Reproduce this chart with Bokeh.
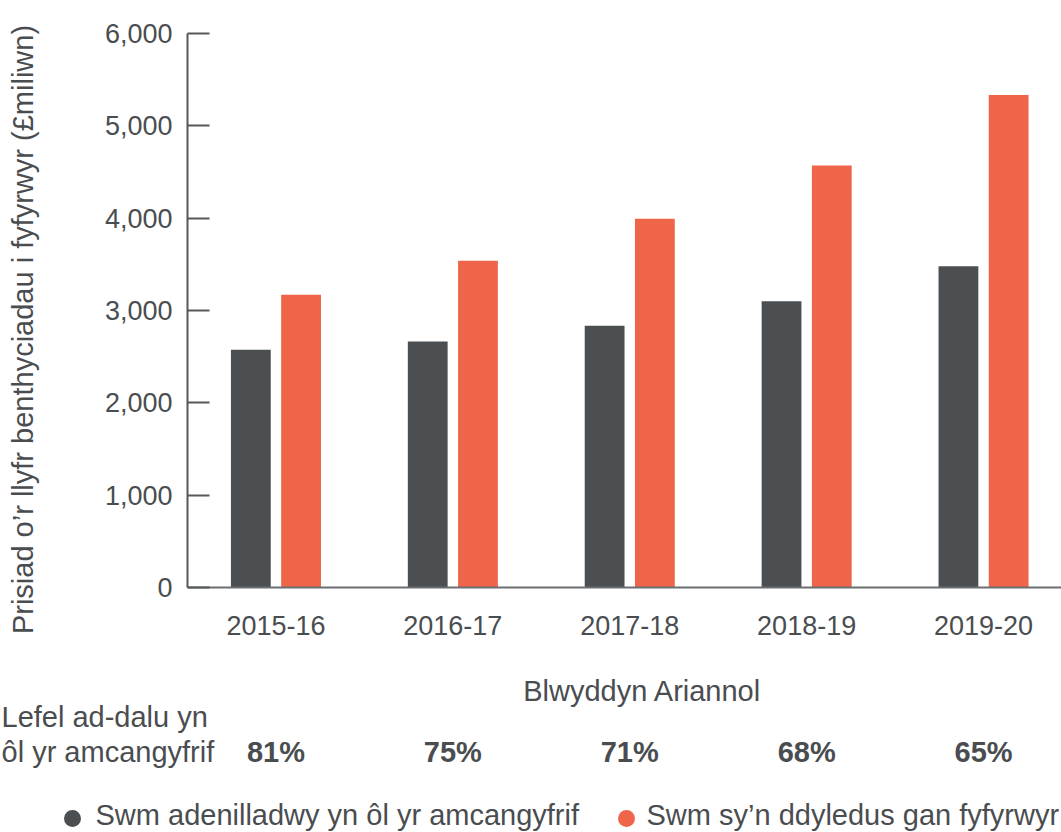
import math
from bokeh.plotting import figure
from bokeh.layouts import column, row
from bokeh.models import ColumnDataSource, Range1d, FixedTicker, NumeralTickFormatter
from bokeh.core.properties import value
from bokeh.transform import dodge
from bokeh.embed import file_html
from bokeh.resources import INLINE

# ---------------- data ----------------
years = ["2015-16", "2016-17", "2017-18", "2018-19", "2019-20"]
recoverable = [2575, 2665, 2835, 3100, 3480]   # Swm adenilladwy yn ôl yr amcangyfrif
owed = [3170, 3540, 3995, 4570, 5335]          # Swm sy’n ddyledus gan fyfyrwyr
repayment_rate = ["81%", "75%", "71%", "68%", "65%"]
y_ticks = [0, 1000, 2000, 3000, 4000, 5000, 6000]

series_labels = ["Swm adenilladwy yn ôl yr amcangyfrif", "Swm sy’n ddyledus gan fyfyrwyr"]
y_title = "Prisiad o’r llyfr benthyciadau i fyfyrwyr (£miliwn)"
x_title = "Blwyddyn Ariannol"
row_title = ["Lefel ad-dalu yn", "ôl yr amcangyfrif"]

# ---------------- style / layout ----------------
TEXT = "#4a4d50"
DARK = "#4b4f52"
ORANGE = "#ef654a"
AXIS = "#55585b"
FONT = "Liberation Sans"

TOTAL_W, TOTAL_H = 1061, 832
STRIP_W = 50            # left strip holding the y-axis title
MAIN_H = 650            # height of the chart part
FRAME_L, FRAME_T, FRAME_B = 187, 33, 587
CAT_PX = 176.9          # pixels per category
X_START = -0.5
Y_START, Y_END = 0, 6000
BL = 10                 # correction for the rendered alphabetic baseline


def dx(px):
    """page pixel -> category-index units (shared by chart and bottom strip)"""
    return X_START + (px - FRAME_L) / CAT_PX


X_END = dx(TOTAL_W)


def bare(width, height, xr, yr):
    f = figure(width=width, height=height, output_backend="svg", toolbar_location=None,
               frame_align=False, x_range=xr, y_range=yr,
               x_axis_location=None, y_axis_location=None, min_border=0)
    f.outline_line_color = None
    f.xgrid.visible = False
    f.ygrid.visible = False
    return f


# ---------------- main chart ----------------
src = ColumnDataSource(dict(x=list(range(len(years))), rec=recoverable, owed=owed))

p = figure(width=TOTAL_W - STRIP_W, height=MAIN_H, output_backend="svg",
           toolbar_location=None, frame_align=False,
           x_range=Range1d(X_START, X_END), y_range=Range1d(Y_START, Y_END),
           min_border_left=FRAME_L - STRIP_W, min_border_top=FRAME_T,
           min_border_bottom=MAIN_H - FRAME_B, min_border_right=0)
p.outline_line_color = None
p.xgrid.visible = False
p.ygrid.visible = False

OFF = 0.142
BW = 0.225
p.vbar(x=dodge("x", -OFF, range=p.x_range), top="rec", width=BW, source=src,
       fill_color=DARK, line_color=None)
p.vbar(x=dodge("x", OFF, range=p.x_range), top="owed", width=BW, source=src,
       fill_color=ORANGE, line_color=None)

ya = p.yaxis[0]
ya.ticker = FixedTicker(ticks=y_ticks)
ya.formatter = NumeralTickFormatter(format="0,0")
ya.major_tick_in = 22
ya.major_tick_out = 0
ya.minor_tick_line_color = None
ya.major_tick_line_width = 2
ya.major_tick_line_color = AXIS
ya.axis_line_width = 2
ya.axis_line_color = AXIS
ya.major_label_standoff = 15
ya.major_label_text_font = FONT
ya.major_label_text_font_size = "27px"
ya.major_label_text_color = TEXT

xa = p.xaxis[0]
xa.ticker = FixedTicker(ticks=list(range(len(years))))
xa.major_label_overrides = {i: y for i, y in enumerate(years)}
xa.major_tick_line_color = None
xa.minor_tick_line_color = None
xa.major_tick_out = 0
xa.major_tick_in = 0
xa.axis_line_width = 2
xa.axis_line_color = "#6b6e71"
xa.major_label_standoff = 28
xa.major_label_text_font = FONT
xa.major_label_text_font_size = "27px"
xa.major_label_text_color = TEXT

# ---------------- left strip: y-axis title ----------------
left = bare(STRIP_W, MAIN_H, Range1d(0, STRIP_W), Range1d(MAIN_H, 0))
left.text(x=[22], y=[329], text=[y_title], angle=math.pi / 2,
          text_align="center", text_baseline="middle",
          text_font=value(FONT), text_font_size=value("29px"), text_color=TEXT)

# ---------------- bottom strip: x title, repayment row, legend ----------------
BOT_H = TOTAL_H - MAIN_H
bottom = bare(TOTAL_W, BOT_H, Range1d(dx(0), dx(TOTAL_W)), Range1d(TOTAL_H, MAIN_H))

txt = dict(text_font=value(FONT), text_font_size=value("29px"), text_color=TEXT,
           text_baseline="alphabetic")
bottom.text(x=[dx(642)], y=[700 - BL], text=[x_title], text_align="center", **txt)
bottom.text(x=[dx(1), dx(1)], y=[726.7 - BL, 761.7 - BL], text=row_title,
            text_align="left", **txt)
bottom.text(x=list(range(len(years))), y=[761.7 - BL] * len(years), text=repayment_rate,
            text_align="center", text_font_style="bold", **txt)

bottom.scatter(x=[dx(72), dx(626)], y=[818, 818], marker="circle", size=17,
               fill_color=[DARK, ORANGE], line_color=None)
bottom.text(x=[dx(95), dx(646)], y=[824 - BL, 824 - BL], text=series_labels,
            text_align="left", **txt)

layout = column(row(left, p, spacing=0), bottom, spacing=0)

open("out.html", "w").write(file_html(layout, INLINE))
